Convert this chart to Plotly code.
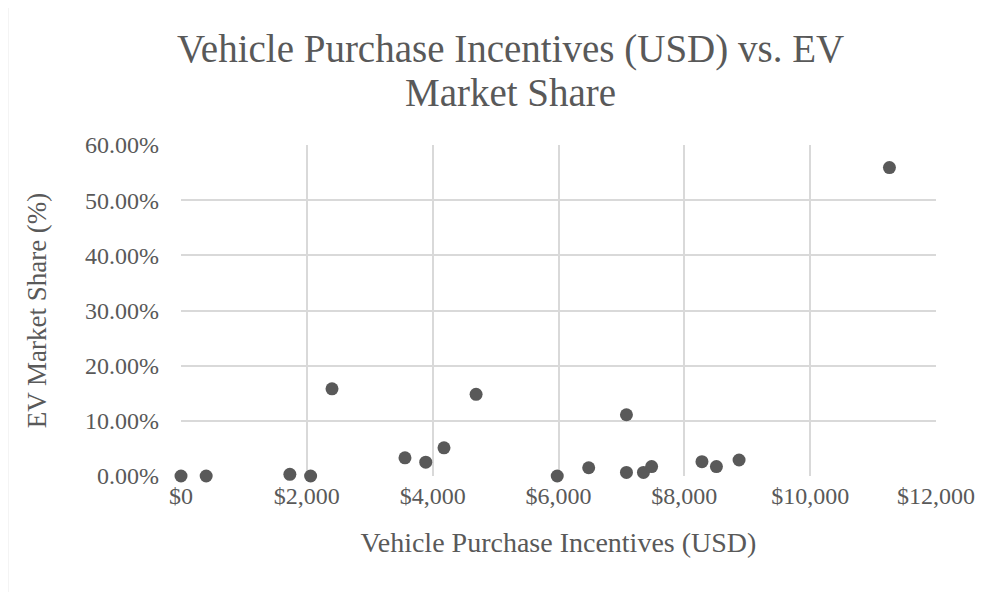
import plotly.graph_objects as go

incentives_usd = [0, 400, 1730, 2060, 2400, 3560, 3890, 4180, 4690, 5980,
                  6480, 7080, 7080, 7350, 7480, 8280, 8510, 8870, 11260]
ev_share = [0.000, 0.000, 0.003, 0.000, 0.158, 0.033, 0.025, 0.051, 0.148, 0.000,
            0.015, 0.111, 0.0065, 0.0065, 0.017, 0.026, 0.017, 0.029, 0.559]

title_line1 = "Vehicle Purchase Incentives (USD) vs. EV"
title_line2 = "Market Share"
x_title = "Vehicle Purchase Incentives (USD)"
y_title = "EV Market Share (%)"

FONT = "Liberation Serif"
TXT = "#595959"
GRID = "#d9d9d9"

OFF = 8  # page body margin
W, H = 992, 584
L, R = 180.5 - OFF, 935.7 - OFF
T, B = 144.5 - OFF, 476.3 - OFF

fig = go.Figure()
fig.add_trace(go.Scatter(
    x=incentives_usd, y=ev_share, mode="markers",
    marker=dict(size=13, color="#595959"),
    showlegend=False, cliponaxis=False,
))

pw = R - L
ph = B - T
fig.add_shape(type="rect", xref="paper", yref="paper",
              x0=(7 - OFF - L) / pw, x1=(1010 - L) / pw,
              y0=(B - 600) / ph, y1=(B - (3 - OFF)) / ph,
              line=dict(color="#d9d9d9", width=1.5), fillcolor="rgba(0,0,0,0)", layer="below")

# two title lines as separate annotations for exact placement
for txt, yc in [(title_line1, 48), (title_line2, 92)]:
    fig.add_annotation(text=txt, xref="paper", yref="paper",
                       x=(510 - OFF - L) / pw, y=(B - (yc - OFF)) / ph,
                       xanchor="center", yanchor="middle", showarrow=False,
                       font=dict(family=FONT, size=39, color=TXT))

fig.update_layout(
    width=W, height=H,
    margin=dict(l=L, r=W - R, t=T, b=H - B, pad=0),
    paper_bgcolor="white", plot_bgcolor="white",
    font=dict(family=FONT, color=TXT),
    xaxis=dict(range=[0, 12000], dtick=2000, tick0=0,
               tickprefix="$", tickformat=",d",
               showgrid=True, gridcolor=GRID, gridwidth=1.5,
               showline=False, zeroline=False, ticks="",
               ticklabelstandoff=3,
               tickfont=dict(family=FONT, size=24, color=TXT),
               title=dict(text=x_title, font=dict(family=FONT, size=28, color=TXT), standoff=24)),
    yaxis=dict(range=[0, 0.6], dtick=0.1, tick0=0, tickformat=".2%",
               showgrid=True, gridcolor=GRID, gridwidth=1.5,
               showline=False, zeroline=False, ticks="",
               ticklabelstandoff=21,
               tickfont=dict(family=FONT, size=24, color=TXT),
               title=dict(text=y_title, font=dict(family=FONT, size=27, color=TXT), standoff=30)),
)

fig.write_html("out.html")
